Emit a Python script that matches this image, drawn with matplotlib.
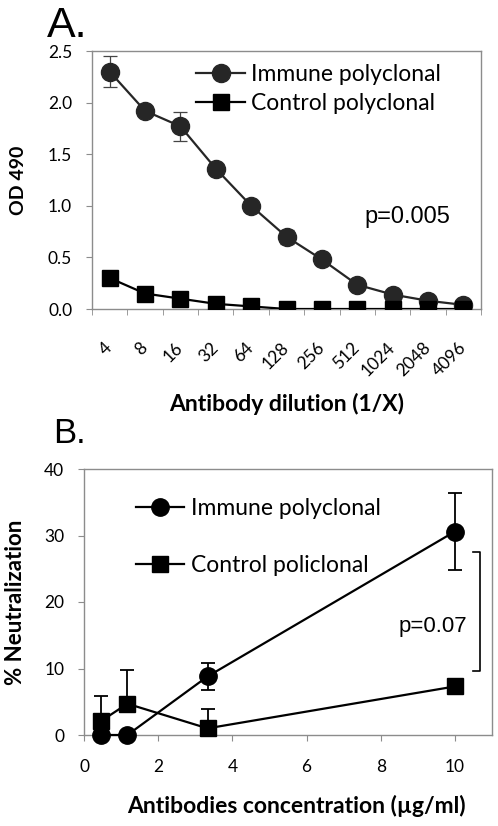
import matplotlib
matplotlib.use('Agg')
import matplotlib.pyplot as plt
import numpy as np

# Panel A data (ELISA)
dilutions = ['4', '8', '16', '32', '64', '128', '256', '512', '1024', '2048', '4096']
immune_od = [2.30, 1.92, 1.77, 1.36, 1.00, 0.70, 0.48, 0.235, 0.14, 0.08, 0.04]
immune_od_err = [0.15, 0.0, 0.14, 0.0, 0.0, 0.07, 0.05, 0.0, 0.0, 0.0, 0.0]
control_od = [0.30, 0.15, 0.10, 0.05, 0.025, 0.0, 0.0, 0.0, 0.0, 0.0, 0.0]

# Panel B data (neutralization)
conc = [0.46, 1.17, 3.33, 10.0]
immune_neut = [0.0, 0.0, 8.8, 30.6]
immune_neut_err = [0.0, 0.0, 2.1, 5.8]
control_neut = [2.1, 4.7, 1.0, 7.3]
control_neut_err = [3.8, 5.0, 2.9, 0.0]

plt.rcParams['font.family'] = ['Lato', 'DejaVu Sans']
gray = '#8c8c8c'
dark = '#262626'

fig = plt.figure(figsize=(4.98, 8.26), dpi=100)

# ---------------- Panel A ----------------
axA = fig.add_axes([92 / 498, 1 - 309 / 826, 389 / 498, 258 / 826])
x = np.arange(len(dilutions))
axA.errorbar(x, immune_od, yerr=immune_od_err, fmt='none', ecolor='#444444',
             elinewidth=0.9, capsize=5, capthick=0.9, zorder=2)
h1, = axA.plot(x, immune_od, color=dark, lw=1.6, marker='o', ms=13, mfc=dark,
               mec=dark, label='Immune polyclonal', zorder=3)
h2, = axA.plot(x, control_od, color='black', lw=1.6, marker='s', ms=12,
               label='Control polyclonal', zorder=4)
axA.set_xlim(-0.5, len(dilutions) - 0.5)
axA.set_ylim(0, 2.5)
axA.set_yticks(np.arange(0, 2.51, 0.5))
axA.set_yticklabels(['%.1f' % v for v in np.arange(0, 2.51, 0.5)])
axA.set_xticks(x)
axA.set_xticklabels(dilutions, rotation=45, ha='right', va='center',
                    rotation_mode='anchor')
axA.set_xticks(np.arange(-0.5, len(dilutions)), minor=True)
axA.tick_params(axis='x', which='major', length=0, pad=26, labelsize=12.5)
axA.tick_params(axis='x', which='minor', length=4.3, color=gray, direction='out')
axA.tick_params(axis='y', length=4.3, color=gray, labelsize=12.5, pad=10)
for s in axA.spines.values():
    s.set_color(gray)
    s.set_linewidth(1.0)
axA.set_ylabel('OD 490', fontsize=14, fontweight='bold', labelpad=15)
axA.set_xlabel('Antibody dilution (1/X)', fontsize=16.5, fontweight='bold', labelpad=10)
axA.legend(handles=[h1, h2], loc='upper left', bbox_to_anchor=(0.245, 0.985),
           frameon=False, fontsize=16.5, handlelength=2.1, handletextpad=0.3,
           labelspacing=0.35, borderaxespad=0)
axA.text(8.43, 0.89, 'p=0.005', fontsize=17, family='Liberation Sans', ha='center',
         va='center')
fig.text(47 / 498, 1 - 37 / 826, 'A.', fontsize=31, family='Liberation Sans',
         ha='left', va='baseline')

# ---------------- Panel B ----------------
axB = fig.add_axes([84 / 498, 1 - 735 / 826, 408 / 498, 266 / 826])
axB.errorbar(conc, immune_neut, yerr=immune_neut_err, fmt='none', ecolor='black',
             elinewidth=1.3, capsize=5, capthick=1.3, zorder=2)
axB.errorbar(conc, control_neut, yerr=[[0] * 4, control_neut_err], fmt='none',
             ecolor='black', elinewidth=1.3, capsize=5, capthick=1.3, zorder=2)
g1, = axB.plot(conc, immune_neut, color='black', lw=1.6, marker='o', ms=12.5,
               label='Immune polyclonal', zorder=3, clip_on=False)
g2, = axB.plot(conc, control_neut, color='black', lw=1.6, marker='s', ms=11.5,
               label='Control policlonal', zorder=4, clip_on=False)
axB.set_xlim(0, 11)
axB.set_ylim(0, 40)
axB.set_xticks(np.arange(0, 11, 2))
axB.set_yticks(np.arange(0, 41, 10))
axB.tick_params(axis='both', length=4.3, color=gray, labelsize=12.5)
axB.tick_params(axis='x', pad=13)
axB.tick_params(axis='y', pad=10)
for s in axB.spines.values():
    s.set_color(gray)
    s.set_linewidth(1.0)
axB.set_ylabel('% Neutralization', fontsize=16, fontweight='bold', labelpad=13)
axB.set_xlabel('Antibodies concentration (µg/ml)', fontsize=16.5, fontweight='bold',
               labelpad=14, x=0.52)
axB.legend(handles=[g1, g2], loc='upper left', bbox_to_anchor=(0.105, 0.925),
           frameon=False, fontsize=16.5, handlelength=2.1, handletextpad=0.3,
           labelspacing=1.55, borderaxespad=0)
# significance bracket
axB.plot([10.5, 10.67, 10.67, 10.5], [27.5, 27.5, 9.6, 9.6], color='black',
         lw=1.2, clip_on=False)
axB.text(10.32, 16.3, 'p=0.07', fontsize=16, family='Liberation Sans', ha='right',
         va='center')
fig.text(53 / 498, 1 - 443 / 826, 'B.', fontsize=25, family='Liberation Sans',
         ha='left', va='baseline')

fig.savefig('out.png', dpi=100)
